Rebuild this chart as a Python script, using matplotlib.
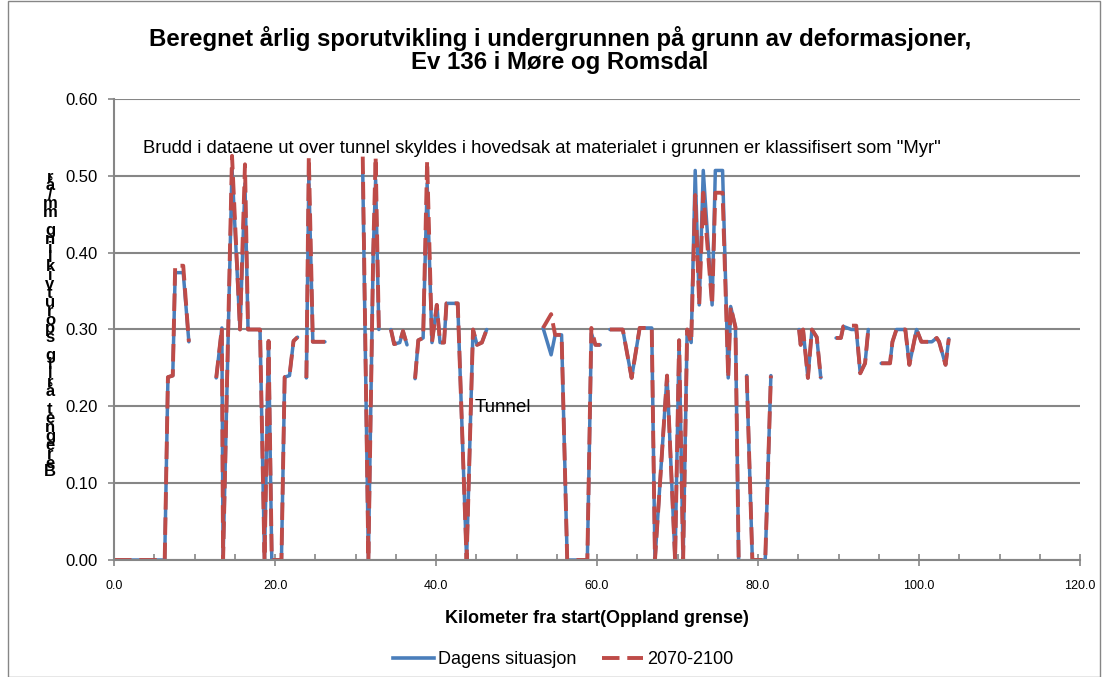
import numpy as np
import matplotlib
matplotlib.use("Agg")
import matplotlib.pyplot as plt
from matplotlib.lines import Line2D
from matplotlib.patches import Rectangle
from matplotlib.ticker import MultipleLocator, FormatStrFormatter

plt.rcParams['font.family'] = ['Liberation Sans', 'DejaVu Sans']

nan = np.nan

# === Data (km from start, yearly rut development) ===
km = [0.0, 6.3, 6.7, 7.3, 7.6, 8.6, 9.3, nan,
      12.7, 13.4, 13.55, 14.66, 15.65, 16.27, 16.65, 18.14, 18.7, 19.2, 19.6, 20.8, 21.2, 21.8, 22.3, 22.8, nan,
      23.9, 24.2, 24.7, 26.2, nan,
      30.9, 31.6, 32.2, 32.5, 32.9, nan,
      34.4, 34.8, 35.5, 35.9, 36.4, nan,
      37.4, 37.8, 38.4, 38.9, 39.5, 40.1, 40.5, 41.0, 41.3, 42.7, 43.8, 44.6, 45.1, 45.7, 46.3, nan,
      53.3, 54.3, 54.8, 55.6, 56.3, 58.8, 59.3, 59.8, 60.4, nan,
      61.6, 63.2, 64.3, 65.3, 66.8, 67.2, 68.7, 69.7, 70.2, 70.7, 71.2, 71.7, 72.2, 72.7, 73.2, 74.3,
      74.7, 75.6, 76.3, 76.6, 77.2, 77.6, nan,
      78.6, 79.3, 80.9, 81.6, nan,
      85.1, 85.3, 85.6, 86.2, 86.7, 87.3, 87.8, nan,
      89.7, 90.3, 90.6, 91.6, 92.2, 92.7, 93.3, 93.7, nan,
      95.3, 96.4, 96.7, 97.2, 98.3, 98.8, 99.7, 100.3, 101.6, 102.2, 102.5, 103.3, 103.7]

dagens = [0.0, 0.0, 0.238, 0.24, 0.374, 0.374, 0.284, nan,
          0.237, 0.302, 0.0, 0.51, 0.30, 0.49, 0.30, 0.30, 0.0, 0.285, 0.0, 0.0, 0.238, 0.24, 0.285, 0.29, nan,
          0.237, 0.50, 0.284, 0.284, nan,
          0.505, 0.0, 0.40, 0.495, 0.30, nan,
          0.30, 0.281, 0.283, 0.298, 0.28, nan,
          0.236, 0.286, 0.289, 0.49, 0.283, 0.332, 0.283, 0.283, 0.334, 0.334, 0.0, 0.30, 0.28, 0.283, 0.30, nan,
          0.302, 0.267, 0.293, 0.293, 0.0, 0.0, 0.295, 0.28, 0.28, nan,
          0.30, 0.30, 0.237, 0.302, 0.302, 0.0, 0.24, 0.0, 0.286, 0.0, 0.30, 0.283, 0.507, 0.332, 0.507, 0.332,
          0.507, 0.507, 0.237, 0.33, 0.303, 0.0, nan,
          0.24, 0.0, 0.0, 0.24, nan,
          0.30, 0.28, 0.30, 0.237, 0.30, 0.29, 0.237, nan,
          0.289, 0.289, 0.304, 0.30, 0.30, 0.243, 0.256, 0.30, nan,
          0.256, 0.256, 0.284, 0.30, 0.30, 0.254, 0.30, 0.284, 0.284, 0.289, 0.284, 0.254, 0.288]

fremtid = [0.0, 0.0, 0.238, 0.24, 0.383, 0.383, 0.284, nan,
           0.237, 0.302, 0.0, 0.526, 0.30, 0.515, 0.30, 0.30, 0.0, 0.285, 0.0, 0.0, 0.238, 0.24, 0.285, 0.29, nan,
           0.237, 0.525, 0.284, 0.284, nan,
           0.525, 0.0, 0.40, 0.525, 0.30, nan,
           0.30, 0.281, 0.283, 0.298, 0.28, nan,
           0.236, 0.286, 0.289, 0.52, 0.283, 0.332, 0.283, 0.283, 0.334, 0.334, 0.0, 0.30, 0.28, 0.283, 0.30, nan,
           0.302, 0.32, 0.293, 0.293, 0.0, 0.0, 0.302, 0.28, 0.28, nan,
           0.30, 0.30, 0.237, 0.302, 0.302, 0.0, 0.24, 0.0, 0.286, 0.0, 0.30, 0.283, 0.475, 0.332, 0.478, 0.332,
           0.478, 0.478, 0.237, 0.33, 0.303, 0.0, nan,
           0.24, 0.0, 0.0, 0.24, nan,
           0.30, 0.28, 0.30, 0.237, 0.30, 0.29, 0.237, nan,
           0.289, 0.289, 0.304, 0.305, 0.305, 0.243, 0.256, 0.30, nan,
           0.256, 0.256, 0.284, 0.30, 0.30, 0.254, 0.30, 0.284, 0.284, 0.289, 0.284, 0.254, 0.288]

series_names = ["Dagens situasjon", "2070-2100"]
title = ("Beregnet årlig sporutvikling i undergrunnen på grunn av deformasjoner,\n"
         "Ev 136 i Møre og Romsdal")
ylabel = "Beregnet årlig sporutvikling mm/år"
xlabel = "Kilometer fra start(Oppland grense)"
note = 'Brudd i dataene ut over tunnel skyldes i hovedsak at materialet i grunnen er klassifisert som "Myr"'

W, H = 1105, 677
fig = plt.figure(figsize=(W / 100, H / 100), dpi=100)
ax = fig.add_axes([114 / W, 1 - 560 / H, (1080 - 114) / W, (560 - 99) / H])

blue = '#4A7EBB'
red = '#BE4B48'
grey = '#868686'

ax.plot(km, dagens, color=blue, lw=2.5, solid_capstyle='round', solid_joinstyle='round')
ax.plot(km, fremtid, color=red, lw=2.8, dashes=(4.5, 2.0), dash_capstyle='butt')

ax.set_xlim(0, 120)
ax.set_ylim(0, 0.6)
ax.xaxis.set_major_locator(MultipleLocator(20))
ax.xaxis.set_minor_locator(MultipleLocator(5))
ax.xaxis.set_major_formatter(FormatStrFormatter('%.1f'))
ax.yaxis.set_major_locator(MultipleLocator(0.1))
ax.yaxis.set_major_formatter(FormatStrFormatter('%.2f'))
ax.tick_params(axis='x', which='major', direction='inout', length=9, width=1.2, color=grey,
               labelsize=9, pad=10)
ax.tick_params(axis='x', which='minor', direction='in', length=4, width=1.2, color=grey)
ax.tick_params(axis='y', which='major', direction='out', length=4, width=1.2, color=grey,
               labelsize=12, pad=8)
ax.grid(axis='y', color=grey, lw=1.5)
ax.set_axisbelow(True)
for s in ['top', 'right']:
    ax.spines[s].set_visible(False)
for s in ['left', 'bottom']:
    ax.spines[s].set_color(grey)
    ax.spines[s].set_linewidth(1.5)

ax.set_xlabel(xlabel, fontsize=13, fontweight='bold', labelpad=13)
fig.text(560 / W, 1 - 50 / H, title, fontsize=17.3, fontweight='bold', ha='center', va='center',
         linespacing=1.0)

ax.text(3.6, 0.536, note, fontsize=13.3, va='center', ha='left')
ax.text(44.8, 0.198, "Tunnel", fontsize=13.5, va='center', ha='left')

# stacked y label as in the original
chars = list(ylabel)[::-1]
y_top, y_bot = 177, 472
for i, ch in enumerate(chars):
    yy = y_top + (y_bot - y_top) * i / (len(chars) - 1)
    fig.text(50 / W, 1 - yy / H, ch, fontsize=12, fontweight='bold', ha='center', va='center')

handles = [Line2D([], [], color=blue, lw=2.6),
           Line2D([], [], color=red, lw=2.8, dashes=(4.5, 2.0))]
fig.legend(handles, series_names, loc='center', bbox_to_anchor=(563 / W, 1 - 660 / H),
           ncol=2, frameon=False, fontsize=13, handlelength=2.3, columnspacing=1.4, handletextpad=0.2)

fig.add_artist(Rectangle((8 / W, 0.5 / H), (1100 - 8) / W, (H - 1) / H, transform=fig.transFigure,
                         fill=False, edgecolor=grey, lw=1))

fig.savefig('out.png', dpi=100)
